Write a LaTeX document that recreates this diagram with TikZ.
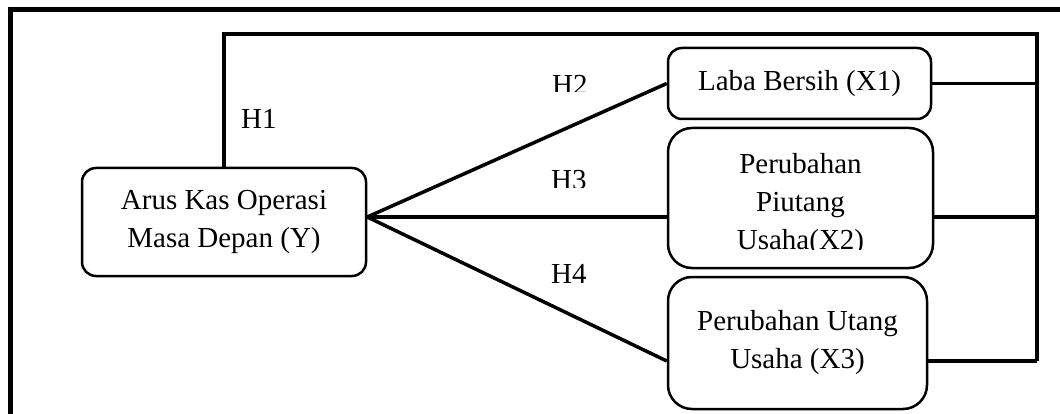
\documentclass[tikz,border=0pt]{standalone}
\usepackage{fontspec}
\setmainfont{Liberation Serif}

\begin{document}
\begin{tikzpicture}[
		x=1pt, y=-1pt,
		every node/.style={font=\fontsize{29}{38}\selectfont, inner sep=0pt, align=center},
		varbox/.style={draw, line width=2.5pt, rounded corners=14pt},
		bigbox/.style={varbox, rounded corners=24pt},
		link/.style={line width=3.5pt},
		hlabel/.style={anchor=base west}
		]
		\useasboundingbox (0,0) rectangle (1060,414);
		\draw[line width=5pt] (10,414) -- (10,10) -- (1060,10);
		\node[varbox, minimum width=284pt, minimum height=108pt] (arus) at (224,222) {Arus Kas Operasi\\Masa Depan (Y)};
		\node[varbox, minimum width=263pt, minimum height=71pt] (laba) at (799.5,83.5) {Laba Bersih (X1)};
		\node[bigbox, minimum width=265pt, minimum height=140pt] (piutang) at (800.5,198) {};
		\node[bigbox, minimum width=259pt, minimum height=132pt] (utang) at (797.5,343) {Perubahan Utang\\Usaha (X3)};
		\begin{scope}
			\clip (668,128) rectangle (933,249);
			\node (piutangtxt) at (800.5,205) {Perubahan\\Piutang\\Usaha(X2)};
		\end{scope}
		\coordinate (bustop) at (1037,34);
		\coordinate (busend) at (1037,361);
		\draw[link] (arus.north) |- (bustop) -- (busend);
		\draw[link] ([yshift=5pt]arus.east) -- (laba.west);
		\draw[link] ([yshift=5pt]arus.east) -- ([yshift=-19pt]piutang.west);
		\draw[link] ([yshift=5pt]arus.east) -- ([yshift=-18pt]utang.west);
		\draw[link] (laba.east) -- (laba.east -| bustop);
		\draw[link] ([yshift=-19pt]piutang.east) -- ([yshift=-19pt]piutang.east -| bustop);
		\draw[link] ([yshift=-18pt]utang.east) -- ([yshift=-18pt]utang.east -| bustop);
		\node[hlabel] (h1) at (241,129) {H1};
		\begin{scope}
			\clip (540,60) rectangle (610,92);
			\node[hlabel] (h2) at (552,95) {H2};
		\end{scope}
		\begin{scope}
			\clip (540,160) rectangle (610,188);
			\node[hlabel] (h3) at (551,190) {H3};
		\end{scope}
		\node[hlabel] (h4) at (551,283) {H4};
	\end{tikzpicture}
\end{document}
